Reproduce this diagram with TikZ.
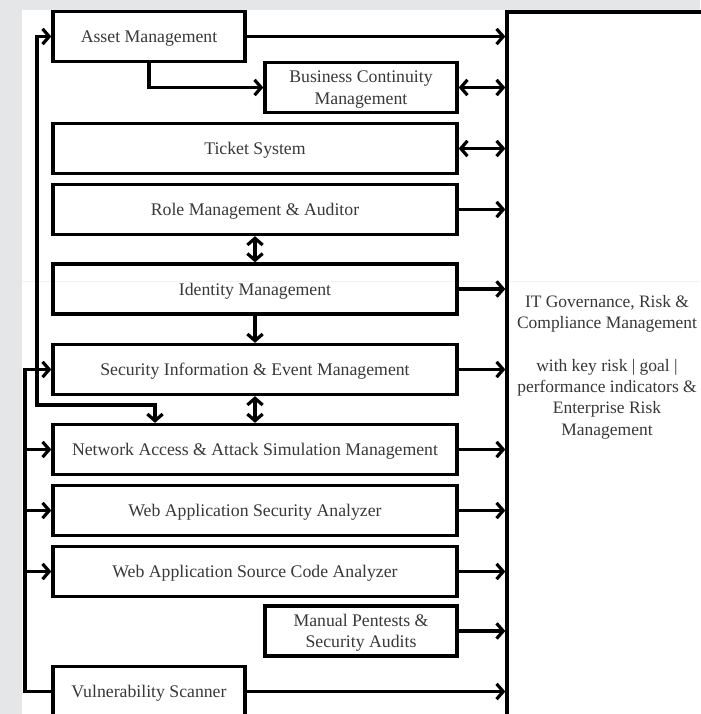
\documentclass[tikz,border=0pt]{standalone}
\usepackage{fontspec}
\setmainfont{Liberation Serif}
\usetikzlibrary{arrows.meta}
\definecolor{bggray}{HTML}{E5E6E8}
\definecolor{txt}{HTML}{383838}
\begin{document}
\begin{tikzpicture}[x=0.75pt,y=-0.75pt,
  box/.style={draw, line width=2.5pt, inner sep=0pt, minimum height=37.5pt, text depth=0pt,
    font=\fontsize{13.3}{16}\selectfont, text=txt, align=center},
  wide/.style={box, minimum width=303pt},
  narrow/.style={box, minimum width=144pt},
  conn/.style={line width=2.4pt, line cap=rect},
  arr/.style={conn, -{Straight Barb[length=5pt,width=11.5pt]}},
  darr/.style={conn, {Straight Barb[length=5pt,width=11.5pt]}-{Straight Barb[length=5pt,width=11.5pt]}}
]
\useasboundingbox (0,0) rectangle (700,714);
\fill[bggray] (0,0) rectangle (700,714);
\fill[white] (22,10) rectangle (700,714);
\draw[gray!10, line width=0.6pt] (22,281.5) -- (700,281.5);

% boxes
\node[narrow] (am)    at (149,36.5)  {Asset Management};
\node[narrow] (bcm)   at (361,87.5)  {Business Continuity\\Management};
\node[wide]   (ts)    at (255,148.5) {Ticket System};
\node[wide]   (rm)    at (255,209.5) {Role Management \& Auditor};
\node[wide]   (im)    at (255,289)   {Identity Management};
\node[wide]   (siem)  at (255,369.5) {Security Information \& Event Management};
\node[wide]   (na)    at (255,449.5) {Network Access \& Attack Simulation Management};
\node[wide]   (wasa)  at (255,510.5) {Web Application Security Analyzer};
\node[wide]   (wasca) at (255,571.5) {Web Application Source Code Analyzer};
\node[narrow] (mp)    at (361,631)   {Manual Pentests \&\\Security Audits};
\node[narrow] (vs)    at (149,691.5) {Vulnerability Scanner};
\node[box, minimum width=156pt, minimum height=528pt] (grc) at (611,364) {};
\node[inner sep=0pt, text depth=0pt, font=\fontsize{13.1}{16}\selectfont, text=txt, align=center]
  (grctext) at (607,365)
  {IT Governance, Risk \&\\Compliance Management\\[16pt]with key risk | goal |\\performance indicators \&\\Enterprise Risk\\Management};

% connectors to the GRC box
\draw[arr]  (am.east) -- (am.east -| grc.west);
\draw[arr]  (am.south) |- (bcm.west);
\draw[darr] (bcm.east) -- (bcm.east -| grc.west);
\draw[darr] (ts.east) -- (ts.east -| grc.west);
\draw[arr]  (rm.east) -- (rm.east -| grc.west);
\draw[arr]  (im.east) -- (im.east -| grc.west);
\draw[arr]  (siem.east) -- (siem.east -| grc.west);
\draw[arr]  (na.east) -- (na.east -| grc.west);
\draw[arr]  (wasa.east) -- (wasa.east -| grc.west);
\draw[arr]  (wasca.east) -- (wasca.east -| grc.west);
\draw[arr]  (mp.east) -- (mp.east -| grc.west);
\draw[arr]  (vs.east) -- (vs.east -| grc.west);

% vertical links
\draw[darr] (rm.south) -- (im.north);
\draw[arr]  (im.south) -- (siem.north);
\draw[darr] (siem.south) -- (na.north);

% left distribution lines
\coordinate (bbot) at (25,691.5);
\coordinate (b1) at (25,369.5);
\coordinate (a1) at (37,369.5);
\coordinate (nx) at (155,405);
\draw[conn] (vs.west) -- (bbot) -- (b1);
\draw[arr]  (b1) -- (siem.west);
\draw[arr]  (b1 |- na.west) -- (na.west);
\draw[arr]  (b1 |- wasa.west) -- (wasa.west);
\draw[arr]  (b1 |- wasca.west) -- (wasca.west);
\draw[arr]  (a1) |- (am.west);
\draw[arr]  (a1) |- (nx) -- (nx |- na.north);
\end{tikzpicture}
\end{document}
